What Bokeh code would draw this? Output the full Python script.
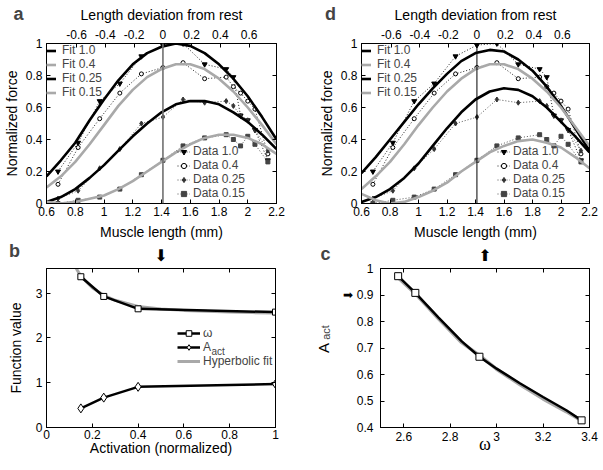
from bokeh.plotting import figure
from bokeh.models import Range1d, LinearAxis, FixedTicker, Legend, LegendItem, Label, Span
from bokeh.layouts import row, column
from bokeh.embed import file_html
from bokeh.resources import INLINE

FONT = "Liberation Sans"

# ---------------- data ----------------
rest_length = 1.41
len_ticks = [0.6, 0.8, 1, 1.2, 1.4, 1.6, 1.8, 2, 2.2]
len_labels = ["0.6", "0.8", "1", "1.2", "1.4", "1.6", "1.8", "2", "2.2"]
dev_ticks = [-0.6, -0.4, -0.2, 0, 0.2, 0.4, 0.6]
dev_labels = ["-0.6", "-0.4", "-0.2", "0", "0.2", "0.4", "0.6"]
force_ticks = [0, 0.2, 0.4, 0.6, 0.8, 1]
force_labels = ["0", "0.2", "0.4", "0.6", "0.8", "1"]

fit_x = [0.6, 0.7, 0.8, 0.9, 1.0, 1.1, 1.2, 1.3, 1.4, 1.5, 1.6, 1.7, 1.8, 1.9, 2.0, 2.1, 2.2]
fit_names = ["Fit 1.0", "Fit 0.4", "Fit 0.25", "Fit 0.15"]
# panel a fits
fa_10 = [0.17, 0.27, 0.38, 0.52, 0.65, 0.77, 0.87, 0.94, 0.98, 1.00, 0.985, 0.94, 0.87, 0.78, 0.67, 0.54, 0.40]
fa_04 = [0.10, 0.17, 0.26, 0.37, 0.49, 0.61, 0.71, 0.79, 0.84, 0.87, 0.87, 0.84, 0.78, 0.70, 0.60, 0.49, 0.37]
fa_025 = [0.01, 0.04, 0.09, 0.16, 0.24, 0.33, 0.42, 0.50, 0.57, 0.62, 0.64, 0.64, 0.62, 0.57, 0.51, 0.43, 0.34]
fa_015 = [0.01, 0.00, 0.01, 0.03, 0.05, 0.09, 0.14, 0.20, 0.26, 0.32, 0.37, 0.41, 0.43, 0.43, 0.41, 0.37, 0.31]
# panel d fits
fd_10 = [0.19, 0.29, 0.40, 0.51, 0.62, 0.72, 0.81, 0.89, 0.94, 0.96, 0.95, 0.90, 0.83, 0.73, 0.61, 0.47, 0.33]
fd_04 = [0.09, 0.17, 0.26, 0.37, 0.49, 0.60, 0.70, 0.78, 0.84, 0.87, 0.87, 0.84, 0.78, 0.70, 0.60, 0.48, 0.36]
fd_025 = [0.01, 0.04, 0.09, 0.16, 0.25, 0.36, 0.47, 0.57, 0.65, 0.70, 0.72, 0.71, 0.67, 0.60, 0.51, 0.42, 0.32]
fd_015 = [0.06, 0.02, 0.00, 0.01, 0.04, 0.08, 0.13, 0.20, 0.26, 0.32, 0.36, 0.39, 0.40, 0.38, 0.35, 0.29, 0.22]

# measured data (same in panels a and d)
data_names = ["Data 1.0", "Data 0.4", "Data 0.25", "Data 0.15"]
data_x = [0.68, 0.82, 0.97, 1.11, 1.26, 1.41, 1.55, 1.70, 1.85, 1.90, 1.95, 2.00, 2.05, 2.14]
data_10 = [0.20, 0.38, 0.64, 0.75, 0.92, 0.99, 1.00, 0.87, 0.84, 0.79, 0.55, 0.52, 0.46, 0.27]
data_04 = [0.12, 0.35, 0.53, 0.69, 0.81, 0.85, 0.88, 0.78, 0.79, 0.73, 0.69, 0.64, 0.59, 0.31]
data_025 = [0.03, 0.08, 0.22, 0.34, 0.50, 0.54, 0.65, 0.63, 0.64, 0.61, 0.55, 0.52, 0.46, 0.33]
data_015 = [0.00, 0.02, 0.04, 0.09, 0.18, 0.27, 0.36, 0.41, 0.43, 0.40, 0.36, 0.42, 0.37, 0.26]

# panel b / c
activation = [0.15, 0.25, 0.4, 1.0]
omega = [3.366, 2.926, 2.65, 2.576]
a_act = [0.427, 0.667, 0.908, 0.971]
hyp_x = [0.13, 0.15, 0.2, 0.25, 0.3, 0.4, 0.5, 0.6, 0.7, 0.8, 0.9, 1.0]
hyp_y = [3.55, 3.38, 3.12, 2.95, 2.84, 2.70, 2.645, 2.615, 2.595, 2.578, 2.565, 2.555]
act_ticks = [0, 0.2, 0.4, 0.6, 0.8, 1]
act_labels = ["0", "0.2", "0.4", "0.6", "0.8", "1"]
fv_ticks = [0, 1, 2, 3]
fv_labels = ["0", "1", "2", "3"]

c_line_x = [2.576, 2.65, 2.75, 2.85, 2.926, 3.0, 3.1, 3.2, 3.3, 3.366]
c_line_y = [0.971, 0.908, 0.815, 0.725, 0.667, 0.622, 0.567, 0.515, 0.465, 0.427]
c_fit_y = [0.965, 0.905, 0.810, 0.720, 0.672, 0.620, 0.562, 0.508, 0.460, 0.425]
om_ticks = [2.6, 2.8, 3, 3.2, 3.4]
om_labels = ["2.6", "2.8", "3", "3.2", "3.4"]
aa_ticks = [0.4, 0.5, 0.6, 0.7, 0.8, 0.9, 1]
aa_labels = ["0.4", "0.5", "0.6", "0.7", "0.8", "➡ 0.9", "1"]


def base_fig(w, h, xr, yr, bl, br, bt, bb):
    p = figure(width=w, height=h, x_range=Range1d(*xr), y_range=Range1d(*yr),
               output_backend="svg", toolbar_location=None,
               min_border_left=bl, min_border_right=br, min_border_top=bt, min_border_bottom=bb)
    p.grid.visible = False
    p.outline_line_color = "black"
    p.outline_line_width = 1
    p.background_fill_color = "white"
    p.border_fill_color = "white"
    return p


def style(ax, ticks, labels, show=True):
    ax.ticker = FixedTicker(ticks=ticks, minor_ticks=[])
    ax.major_label_overrides = dict(zip(ticks, labels if show else [""] * len(ticks)))
    ax.major_tick_in = 4
    ax.major_tick_out = 0
    ax.minor_tick_line_color = None
    ax.axis_line_color = "black"
    ax.major_tick_line_color = "black"
    ax.major_label_text_font = FONT
    ax.major_label_text_font_size = "12px"
    ax.major_label_text_color = "black"
    ax.major_label_standoff = 3 if show else 0
    ax.axis_label_text_font = FONT
    ax.axis_label_text_font_size = "14px"
    ax.axis_label_text_font_style = "normal"
    ax.axis_label_text_color = "black"
    ax.axis_label_standoff = 3


def side_label(p, txt, x, y, place="right", size="18px", bold=True, angle=0.0, font=FONT):
    p.add_layout(Label(x=x, y=y, x_units="screen", y_units="screen", text=txt, angle=angle,
                       text_font=font, text_font_style="bold" if bold else "normal",
                       text_font_size=size, text_align="center", text_baseline="middle"), place)


def arrow_axis(p, tick, txt):
    ax = LinearAxis(ticker=FixedTicker(ticks=[tick], minor_ticks=[]),
                    major_label_overrides={tick: txt})
    ax.major_tick_in = 0
    ax.major_tick_out = 0
    ax.minor_tick_line_color = None
    ax.major_tick_line_color = None
    ax.axis_line_color = None
    ax.major_label_standoff = 4
    ax.major_label_text_font = "DejaVu Sans"
    ax.major_label_text_font_size = "16px"
    ax.major_label_text_color = "black"
    p.add_layout(ax, "above")


def force_panel(w, bl, br, fits, rest_color, rest_width, data_legend_x):
    p = base_fig(w, 242, (0.6, 2.2), (0, 1), bl, br, 43, 39)
    style(p.xaxis[0], len_ticks, len_labels)
    p.xaxis[0].axis_label = "Muscle length (mm)"
    p.xaxis[0].axis_label_standoff = 5
    style(p.yaxis[0], force_ticks, force_labels)
    p.yaxis[0].axis_label = "Normalized force"
    p.yaxis[0].major_label_standoff = 4
    ax_r = LinearAxis()
    style(ax_r, force_ticks, force_labels, show=False)
    p.add_layout(ax_r, "right")
    p.extra_x_ranges = {"dev": Range1d(0.6 - rest_length, 2.2 - rest_length)}
    ax_t = LinearAxis(x_range_name="dev", axis_label="Length deviation from rest")
    style(ax_t, dev_ticks, dev_labels)
    ax_t.major_label_standoff = 5
    ax_t.axis_label_standoff = 4
    p.add_layout(ax_t, "above")

    p.add_layout(Span(location=rest_length, dimension="height", line_color=rest_color, line_width=rest_width))

    data_sets = [data_10, data_04, data_025, data_015]
    markers = ["inverted_triangle", "circle", "diamond", "square"]
    mfill = ["black", "white", "#333333", "#444444"]
    mline = ["black", "black", "#333333", "#444444"]
    msize = [5, 4, 5, 4]
    lcol = ["#222222", "#222222", "#555555", "#555555"]
    ditems = []
    for ys, mk, fc, lc, ms, dc, nm in zip(data_sets, markers, mfill, mline, msize, lcol, data_names):
        rl = p.line(data_x, ys, line_color=dc, line_width=1, line_dash="1 2")
        rs = p.scatter(data_x, ys, marker=mk, size=ms, fill_color=fc, line_color=lc, line_width=1)
        ditems.append(LegendItem(label=nm, renderers=[rl, rs]))

    colors = ["black", "#a9a9a9", "black", "#a9a9a9"]
    fitems = []
    for ys, c, nm in zip(fits, colors, fit_names):
        r = p.line(fit_x, ys, line_color=c, line_width=2.6)
        fitems.append(LegendItem(label=nm, renderers=[r]))

    leg_f = Legend(items=fitems, location="top_left", padding=4, margin=0, spacing=0,
                   glyph_width=10, glyph_height=13, label_height=13, label_standoff=6,
                   label_text_font=FONT, label_text_font_size="12px",
                   background_fill_alpha=0, border_line_color=None)
    leg_d = Legend(items=ditems, location=(data_legend_x, 3), padding=0, margin=0, spacing=0,
                   glyph_width=13, glyph_height=13, label_height=13, label_standoff=3,
                   label_text_font=FONT, label_text_font_size="12px",
                   background_fill_alpha=0, border_line_color=None)
    p.add_layout(leg_f)
    p.add_layout(leg_d)
    return p


p_a = force_panel(300, 46, 24, [fa_10, fa_04, fa_025, fa_015], "#707070", 1.6, 131)
side_label(p_a, "a", -258, 190)
p_d = force_panel(303, 61, 14, [fd_10, fd_04, fd_025, fd_015], "black", 1.0, 136)
side_label(p_d, "d", -259, 190)

# ---------------- panel b ----------------
p_b = base_fig(300, 228, (0, 1), (0, 3.55), 46, 25, 24, 43)
style(p_b.xaxis[0], act_ticks, act_labels)
p_b.xaxis[0].axis_label = "Activation (normalized)"
p_b.xaxis[0].major_label_standoff = 2
p_b.xaxis[0].axis_label_standoff = -2
style(p_b.yaxis[0], fv_ticks, fv_labels)
p_b.yaxis[0].axis_label = "Function value"
p_b.yaxis[0].major_label_standoff = 4
p_b.yaxis[0].axis_label_standoff = 9
ax = LinearAxis(); style(ax, fv_ticks, fv_labels, show=False); p_b.add_layout(ax, "right")
ax = LinearAxis(); style(ax, act_ticks, act_labels, show=False); p_b.add_layout(ax, "above")
arrow_axis(p_b, 0.5, "⬇")

r_h = p_b.line(hyp_x, hyp_y, line_color="#a9a9a9", line_width=3)
r_ol = p_b.line(activation, omega, line_color="black", line_width=2.5)
r_os = p_b.scatter(activation, omega, marker="square", size=6, fill_color="white", line_color="black")
r_al = p_b.line(activation, a_act, line_color="black", line_width=2.5)
r_as = p_b.scatter(activation, a_act, marker="diamond", size=9, fill_color="white", line_color="black")
leg_b = Legend(items=[LegendItem(label="ω", renderers=[r_ol, r_os]),
                      LegendItem(label="A", renderers=[r_al, r_as]),
                      LegendItem(label="Hyperbolic fit", renderers=[r_h])],
               location=(131, 59), padding=0, margin=0, spacing=0,
               glyph_width=23, glyph_height=14, label_height=14, label_standoff=3,
               label_text_font=FONT, label_text_font_size="12px",
               background_fill_alpha=0, border_line_color=None)
p_b.add_layout(leg_b)
p_b.add_layout(Label(x=165, y=76, x_units="screen", y_units="screen", text="act",
                     text_font=FONT, text_font_size="10px", text_align="left", text_baseline="middle"))
side_label(p_b, "b", -261, 177)

# ---------------- panel c ----------------
p_c = base_fig(303, 228, (2.5, 3.4), (0.4, 1), 62, 14, 24, 43)
style(p_c.xaxis[0], om_ticks, om_labels)
p_c.xaxis[0].axis_label = "ω"
p_c.xaxis[0].axis_label_text_font = "Liberation Serif"
p_c.xaxis[0].axis_label_text_font_size = "18px"
p_c.xaxis[0].axis_label_standoff = -10
p_c.xaxis[0].major_label_standoff = 4
style(p_c.yaxis[0], aa_ticks, aa_labels)
p_c.yaxis[0].major_label_standoff = 7
p_c.yaxis[0].axis_label = "A"
p_c.yaxis[0].axis_label_text_font_size = "15px"
p_c.yaxis[0].axis_label_standoff = 8
ax = LinearAxis(); style(ax, aa_ticks, aa_labels, show=False); p_c.add_layout(ax, "right")
ax = LinearAxis(); style(ax, om_ticks, om_labels, show=False); p_c.add_layout(ax, "above")
arrow_axis(p_c, 2.95, "⬆")

p_c.line(c_line_x, c_fit_y, line_color="#a9a9a9", line_width=3.5)
p_c.line(c_line_x, c_line_y, line_color="black", line_width=2.5)
p_c.scatter(omega, a_act, marker="square", size=7, fill_color="white", line_color="black")
side_label(p_c, "c", -264, 174)
side_label(p_c, "act", 25, 95, place="left", size="11px", bold=False, angle=1.5708)

layout = column(row(p_a, p_d), row(p_b, p_c))
open("out.html", "w").write(file_html(layout, INLINE))
